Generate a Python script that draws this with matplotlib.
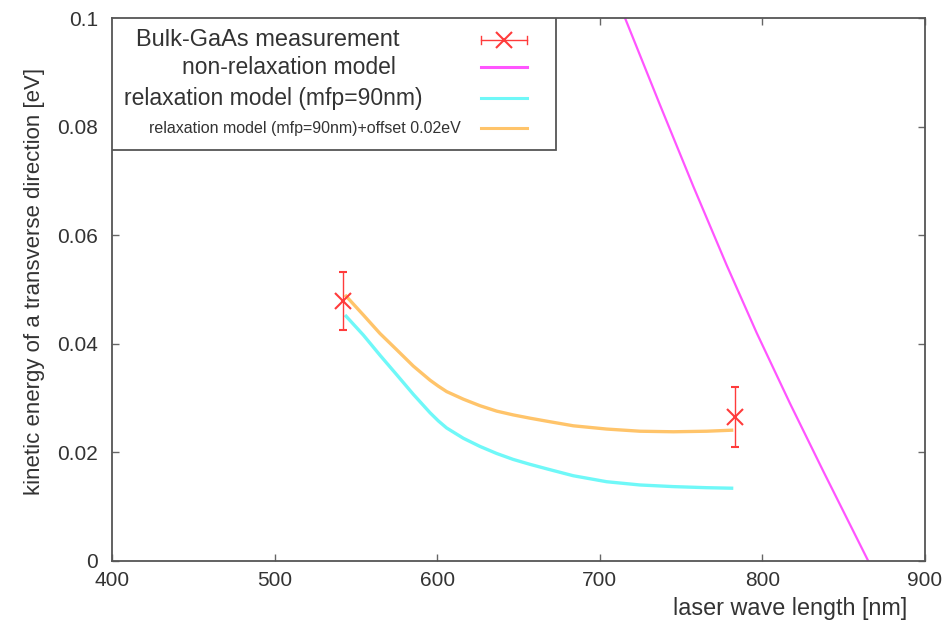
import matplotlib
matplotlib.use("Agg")
import matplotlib.pyplot as plt
from matplotlib.lines import Line2D
from matplotlib.patches import Rectangle

plt.rcParams['font.family'] = ['Liberation Sans', 'DejaVu Sans']

# Measurement
meas_x = [542, 783]
meas_y = [0.0479, 0.0265]
meas_err = [0.0054, 0.0055]

# non-relaxation model
nonrel_x = [715.5, 737.0, 757.5, 778.0, 796.5, 817.0, 837.5, 865.1]
nonrel_y = [0.1, 0.0840, 0.0690, 0.0545, 0.0420, 0.0290, 0.0165, 0.0]

# relaxation model (mfp=90nm)
rel_x = [543.3, 554.6, 564.8, 575.1, 585.3, 595.6, 600.7, 605.8, 616.1, 626.3, 636.6,
         646.8, 657.1, 668.3, 683.7, 704.2, 724.7, 745.2, 765.7, 782.1]
rel_y = [0.0453, 0.0416, 0.0379, 0.0343, 0.0307, 0.0273, 0.0258, 0.0245, 0.0226, 0.0211,
         0.0198, 0.0187, 0.0178, 0.0169, 0.0157, 0.0146, 0.0140, 0.0137, 0.0135,
         0.0134]

# relaxation model + offset
off_x = [543.3, 554.6, 564.8, 575.1, 585.3, 595.6, 600.7, 605.8, 616.1, 626.3, 636.6,
         646.8, 657.1, 668.3, 683.7, 704.2, 724.7, 745.2, 765.7, 782.1]
off_y = [0.0490, 0.0453, 0.0419, 0.0389, 0.0359, 0.0333, 0.0322, 0.0312, 0.0298, 0.0286,
         0.0276, 0.0269, 0.0263, 0.0257, 0.0249, 0.0243, 0.0239, 0.0238, 0.0239,
         0.0241]

xticks = [400, 500, 600, 700, 800, 900]
yticks = [0, 0.02, 0.04, 0.06, 0.08, 0.1]
ytick_labels = ['0', '0.02', '0.04', '0.06', '0.08', '0.1']

labels = ['Bulk-GaAs measurement', 'non-relaxation model',
          'relaxation model (mfp=90nm)', 'relaxation model (mfp=90nm)+offset 0.02eV']

c_red = '#ff3b3b'
c_mag = '#ff55ff'
c_cyan = '#6ff8f8'
c_orange = '#ffc46a'

W, H = 950, 621
fig = plt.figure(figsize=(W / 100, H / 100), dpi=100)
ax = fig.add_axes([112 / W, 1 - 561 / H, (925 - 112) / W, (561 - 18) / H])

ax.plot(nonrel_x, nonrel_y, color=c_mag, lw=1.6)
ax.plot(rel_x, rel_y, color=c_cyan, lw=2.4, solid_capstyle='butt')
ax.plot(off_x, off_y, color=c_orange, lw=2.4, solid_capstyle='butt')
ax.errorbar(meas_x, meas_y, yerr=meas_err, fmt='x', color=c_red, ms=11, mew=1.5,
            elinewidth=1.0, capsize=3, capthick=1.0, zorder=5)

ax.set_xlim(400, 900)
ax.set_ylim(0, 0.1)
ax.set_xticks(xticks)
ax.set_yticks(yticks)
ax.set_yticklabels(ytick_labels)
ax.tick_params(direction='in', top=True, right=True, length=5, width=1,
               color='#666666', labelsize=15, labelcolor='#333333')
ax.tick_params(axis='x', pad=7)
ax.tick_params(axis='y', pad=10)
for s in ax.spines.values():
    s.set_color('#555555')
    s.set_linewidth(1.3)

fig.text(35 / W, 1 - 281 / H, 'kinetic energy of a transverse direction [eV]',
         rotation=90, ha='center', va='center', fontsize=16, color='#333333')
fig.text(907 / W, 1 - 609 / H, 'laser wave length [nm]', ha='right', va='center',
         fontsize=16.8, color='#333333')

# Legend (manual)
def px2ax(x, y):
    return ((x - 112) / (925 - 112), (561 - y) / (561 - 18))

x0, y0 = px2ax(112, 150)
x1, y1 = px2ax(556, 18)
ax.add_patch(Rectangle((x0, y0), x1 - x0, y1 - y0, transform=ax.transAxes,
                       facecolor='white', edgecolor='#555555', lw=1.3, zorder=6))
rows_y = [40, 67, 98, 128]
text_right = [400, 396, 422, 461]
text_size = [17, 16.5, 16.5, 11.5]
for yy, xr, fs, lab in zip(rows_y, text_right, text_size, labels):
    tx, ty = px2ax(xr, yy)
    ax.text(tx, ty, lab, transform=ax.transAxes, ha='right', va='center',
            fontsize=fs, color='#333333', zorder=7)
lx0, _ = px2ax(481, 0)
lx1, _ = px2ax(527, 0)
colors = [c_red, c_mag, c_cyan, c_orange]
for i, (yy, c) in enumerate(zip(rows_y, colors)):
    _, ly = px2ax(0, yy)
    ax.add_line(Line2D([lx0, lx1], [ly, ly], transform=ax.transAxes, color=c,
                       lw=1.0 if i == 0 else 2.2, zorder=7))
    if i == 0:
        lxm = (lx0 + lx1) / 2
        ax.add_line(Line2D([lxm], [ly], transform=ax.transAxes, color=c, marker='x',
                           ms=11, mew=1.5, zorder=8))
        for xe in (lx0, lx1):
            ax.add_line(Line2D([xe, xe], [ly - 0.008, ly + 0.008], transform=ax.transAxes,
                               color=c, lw=1.0, zorder=8))

fig.savefig('out.png', dpi=100)
